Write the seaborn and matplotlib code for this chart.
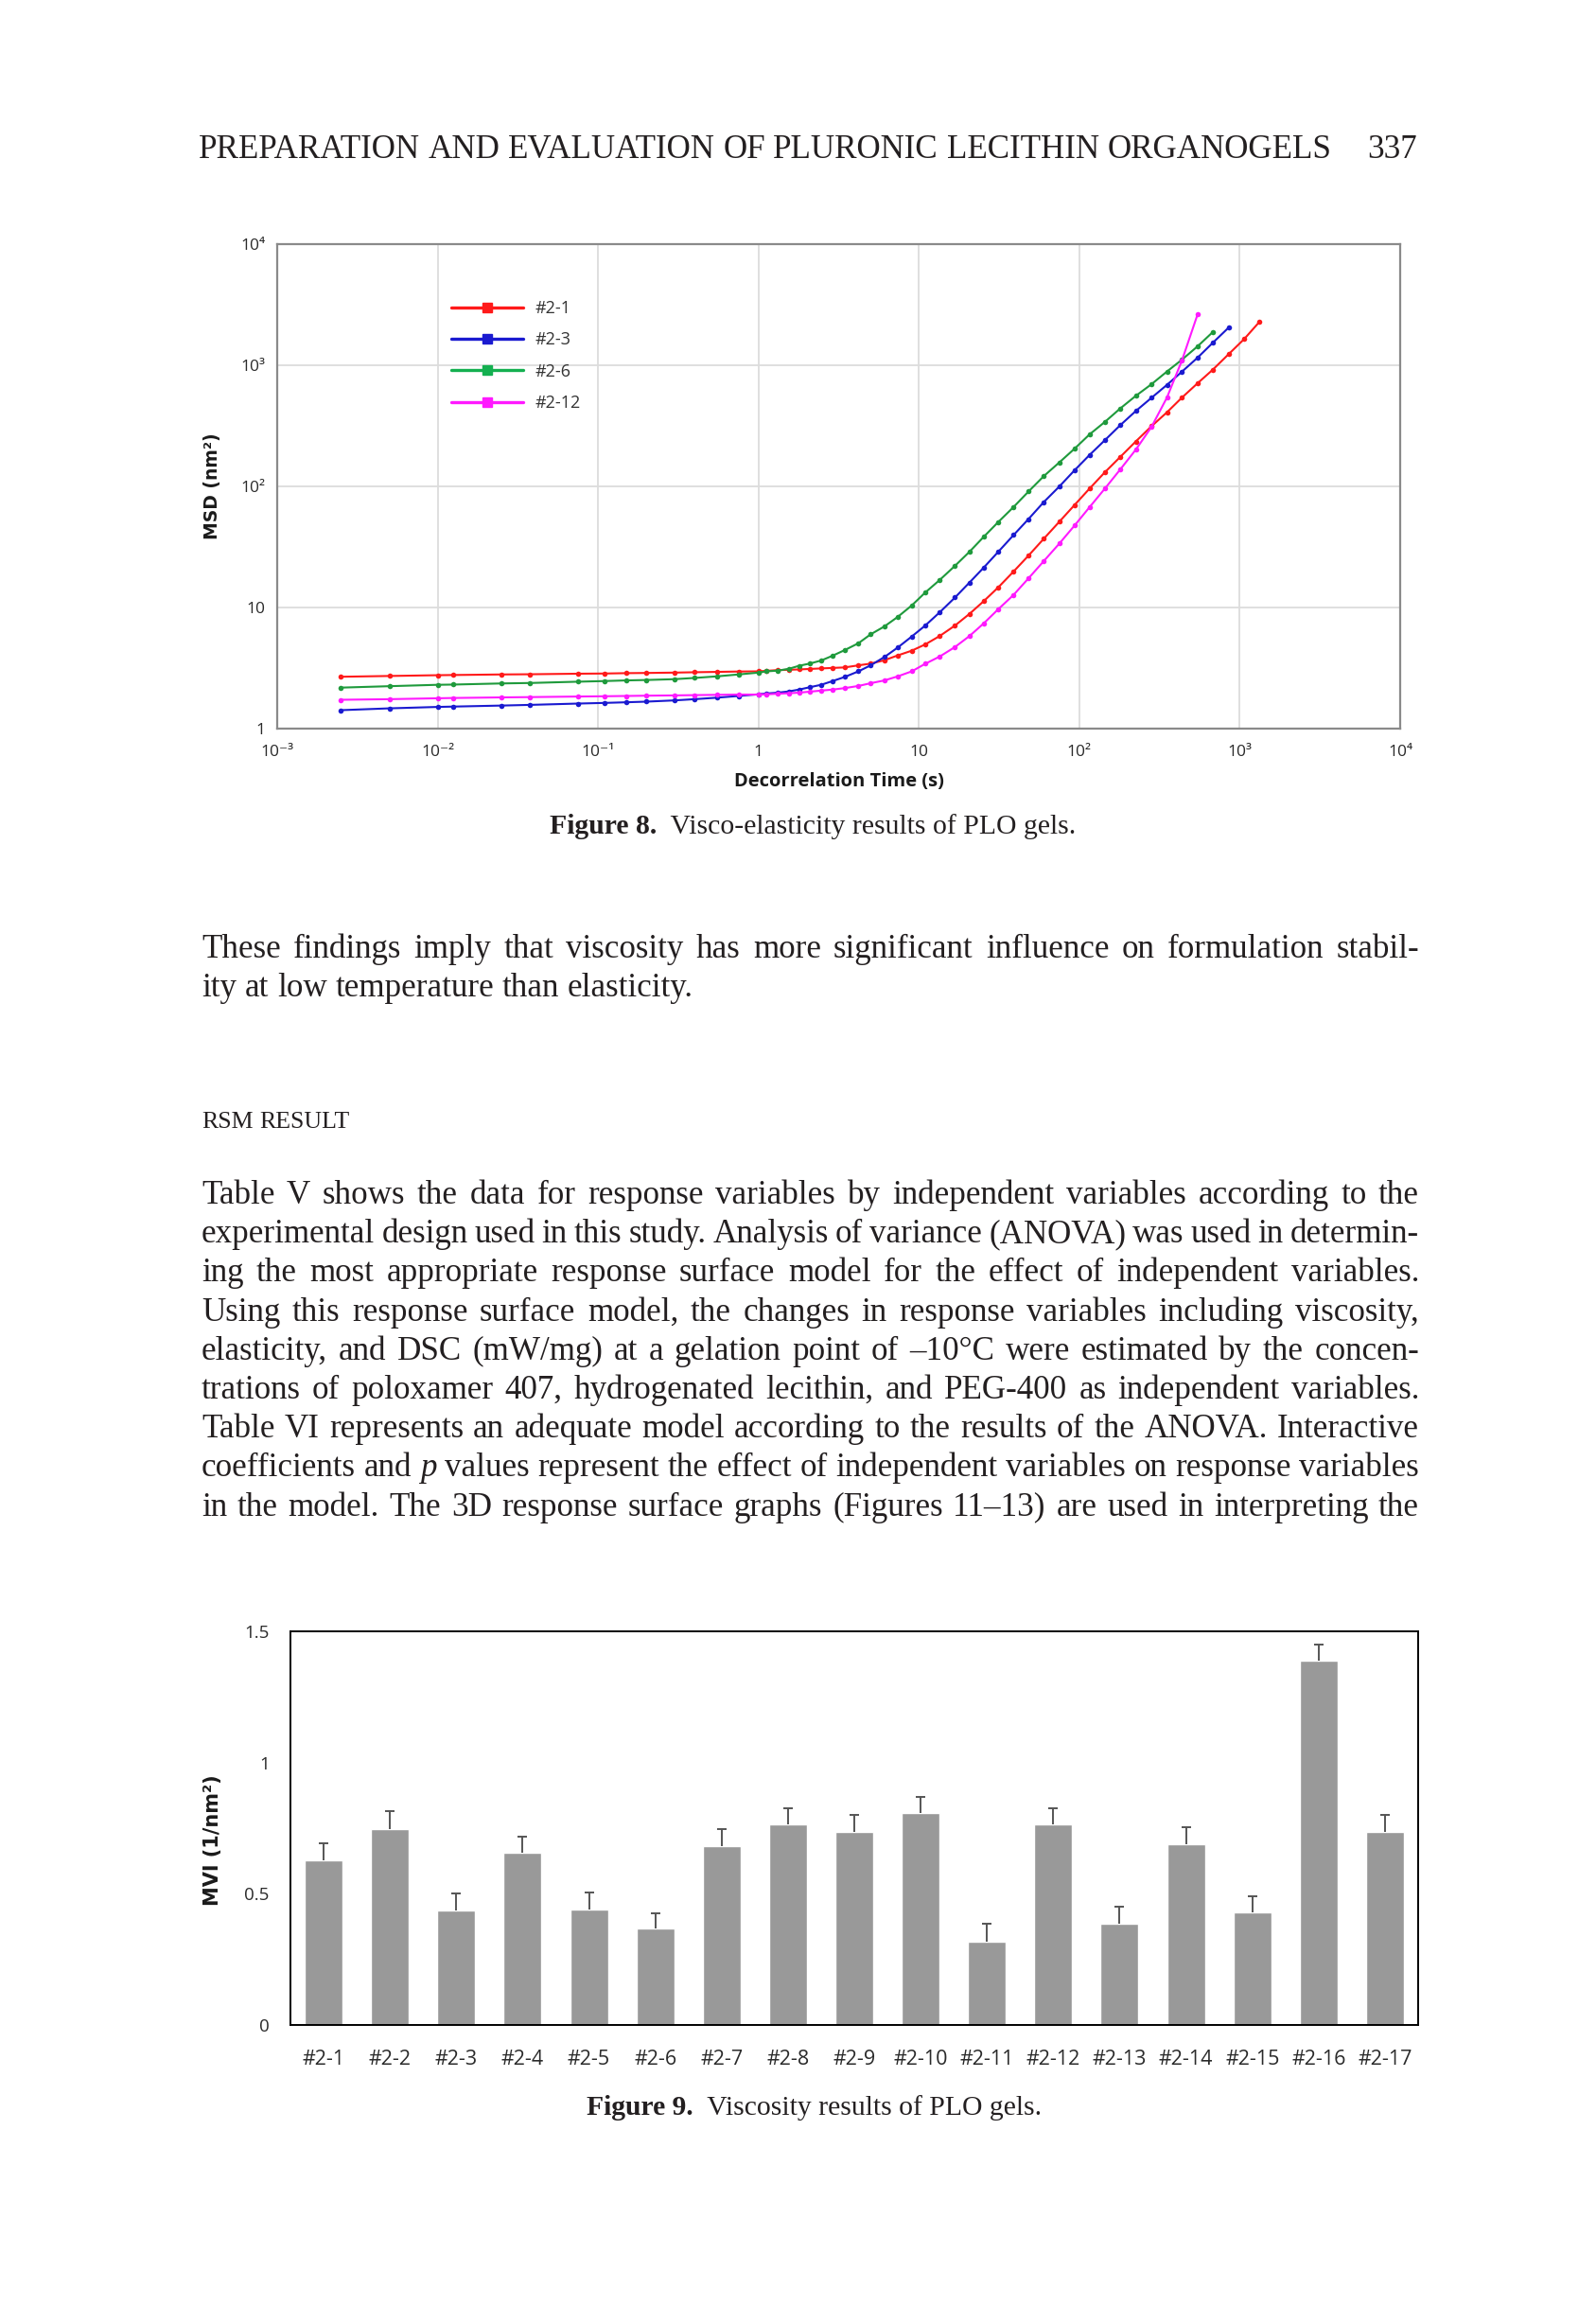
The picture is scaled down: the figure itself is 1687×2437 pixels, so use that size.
import numpy as np
import pandas as pd
import matplotlib
matplotlib.use("Agg")
import matplotlib.pyplot as plt
from matplotlib.lines import Line2D
from matplotlib.ticker import NullLocator
from matplotlib.transforms import IdentityTransform
import seaborn as sns

sns.set_style("white")
plt.rcParams["font.family"] = ["Open Sans", "DejaVu Sans"]

W, H = 1687, 2437
SERIF = "Liberation Serif"

# ---- Figure 8 data: MSD vs decorrelation time ----
lag_time = [0.0025, 0.005, 0.01, 0.0125, 0.025, 0.0375, 0.075, 0.11, 0.15, 0.2, 0.3, 0.4, 0.55, 0.75,
            1.0, 1.12, 1.32, 1.55, 1.79, 2.1, 2.46, 2.9, 3.45, 4.2, 5.0, 6.1, 7.38, 9.03,
            10.96, 13.5, 16.8, 20.7, 25.4, 31.3, 38.9, 48.2, 60.1, 75.2, 93.5,
            116, 144.5, 180, 225, 282, 352, 437, 546, 679, 852, 1065, 1330]

msd_2_1 = [2.68, 2.72, 2.76, 2.77, 2.80, 2.81, 2.84, 2.85, 2.87, 2.88, 2.90, 2.92, 2.94, 2.96,
           2.97, 3.00, 3.04, 3.06, 3.08, 3.11, 3.14, 3.17, 3.20, 3.33, 3.44, 3.67, 4.02, 4.40,
           4.96, 5.82, 7.10, 8.87, 11.3, 14.7, 19.8, 26.8, 37.0, 51.2, 70.3,
           96.1, 131, 175, 235, 314, 409, 542, 710, 919, 1233, 1644, 2291]
msd_2_3 = [1.42, 1.47, 1.51, 1.52, 1.55, 1.57, 1.61, 1.63, 1.65, 1.67, 1.71, 1.75, 1.80, 1.86,
           1.92, 1.95, 1.98, 2.03, 2.10, 2.20, 2.30, 2.47, 2.67, 2.97, 3.33, 3.90, 4.67, 5.76,
           7.10, 9.14, 12.1, 16.1, 21.4, 28.9, 39.6, 53.7, 74.3, 100, 136,
           182, 241, 320, 419, 539, 689, 887, 1155, 1532, 2044]
msd_2_6 = [2.18, 2.24, 2.30, 2.31, 2.36, 2.38, 2.44, 2.47, 2.50, 2.52, 2.56, 2.62, 2.70, 2.80,
           2.90, 2.97, 3.01, 3.12, 3.30, 3.45, 3.65, 4.00, 4.45, 5.07, 6.00, 6.98, 8.36, 10.4,
           13.3, 16.9, 22.1, 28.9, 38.4, 50.9, 67.5, 90.6, 121.6, 158, 205,
           269, 341, 440, 559, 698, 888, 1114, 1433, 1879]
msd_2_12 = [1.73, 1.75, 1.78, 1.79, 1.81, 1.82, 1.84, 1.85, 1.86, 1.87, 1.88, 1.89, 1.90, 1.91,
            1.91, 1.92, 1.94, 1.96, 1.98, 2.02, 2.06, 2.10, 2.16, 2.25, 2.37, 2.50, 2.70, 2.97,
            3.43, 3.94, 4.72, 5.82, 7.41, 9.70, 12.7, 17.4, 24.2, 33.8, 47.6,
            67.5, 96.1, 138, 201, 310, 542, 1102, 2630]

samples = ["#2-1", "#2-3", "#2-6", "#2-12"]
msd_series = [msd_2_1, msd_2_3, msd_2_6, msd_2_12]
line_colors = {"#2-1": "#ff1a1a", "#2-3": "#1a1ad0", "#2-6": "#1f9a3c", "#2-12": "#ff1aff"}
legend_colors = {"#2-1": "#ff1a1a", "#2-3": "#1a1ad0", "#2-6": "#14b050", "#2-12": "#ff1aff"}

x_ticks = [1e-3, 1e-2, 1e-1, 1, 10, 1e2, 1e3, 1e4]
x_ticklabels = ["10\u207b\u00b3", "10\u207b\u00b2", "10\u207b\u00b9", "1", "10", "10\u00b2", "10\u00b3", "10\u2074"]
y_ticks = [1, 10, 1e2, 1e3, 1e4]
y_ticklabels = ["1", "10", "10\u00b2", "10\u00b3", "10\u2074"]

# ---- Figure 9 data: MVI per gel ----
gels = ["#2-1", "#2-2", "#2-3", "#2-4", "#2-5", "#2-6", "#2-7", "#2-8", "#2-9",
        "#2-10", "#2-11", "#2-12", "#2-13", "#2-14", "#2-15", "#2-16", "#2-17"]
mvi = [0.627, 0.747, 0.435, 0.658, 0.441, 0.367, 0.681, 0.766, 0.735,
       0.809, 0.319, 0.766, 0.385, 0.689, 0.428, 1.388, 0.736]
mvi_sd = [0.067, 0.067, 0.066, 0.059, 0.065, 0.059, 0.066, 0.060, 0.067,
          0.061, 0.066, 0.060, 0.067, 0.064, 0.064, 0.062, 0.066]

# ---- page text ----
header = "PREPARATION AND EVALUATION OF PLURONIC LECITHIN ORGANOGELS"
page_no = "337"
para1 = ["These findings imply that viscosity has more significant influence on formulation stabil-",
         "ity at low temperature than elasticity."]
section = "RSM RESULT"
para2 = ["Table V shows the data for response variables by independent variables according to the",
         "experimental design used in this study. Analysis of variance (ANOVA) was used in determin-",
         "ing the most appropriate response surface model for the effect of independent variables.",
         "Using this response surface model, the changes in response variables including viscosity,",
         "elasticity, and DSC (mW/mg) at a gelation point of \u201310\u00b0C were estimated by the concen-",
         "trations of poloxamer 407, hydrogenated lecithin, and PEG-400 as independent variables.",
         "Table VI represents an adequate model according to the results of the ANOVA. Interactive",
         "coefficients and *p* values represent the effect of independent variables on response variables",
         "in the model. The 3D response surface graphs (Figures 11\u201313) are used in interpreting the"]

fig = plt.figure(figsize=(W / 100, H / 100), dpi=100)
fig.patch.set_facecolor("white")
renderer = fig.canvas.get_renderer()
INK = "#231f20"


def text_w(s, size, **kw):
    t = fig.text(0, 0, s, fontsize=size, family=SERIF, **kw)
    w = t.get_window_extent(renderer).width
    t.remove()
    return w


def split_words(line):
    out = []
    for w in line.split(" "):
        if w.startswith("*") and w.endswith("*"):
            out.append((w.strip("*"), "italic"))
        else:
            out.append((w, "normal"))
    return out


def natural_width(line, size):
    words = split_words(line)
    space = text_w("n n", size) - text_w("nn", size)
    return sum(text_w(w, size, style=st) for w, st in words) + space * (len(words) - 1)


def draw_line(line, x0, x1, y, size, justify=True, **kw):
    words = split_words(line)
    widths = [text_w(w, size, style=st, **kw) for w, st in words]
    space = text_w("n n", size, **kw) - text_w("nn", size, **kw)
    if justify:
        gap = max((x1 - x0 - sum(widths)) / (len(words) - 1), 0.3 * space)
    else:
        gap = space
    x = x0
    for (w, st), wd in zip(words, widths):
        fig.text(x, H - y, w, fontsize=size, family=SERIF, style=st, color=INK,
                 ha="left", va="baseline", transform=IdentityTransform(), **kw)
        x += wd + gap


# body font size: most justified lines close to natural spacing
X0, X1 = 213, 1500
full_lines = [para1[0]] + para2
fits = [20 * (X1 - X0) / natural_width(l, 20) for l in full_lines]
body_size = min(np.median(fits) * 0.97, min(fits) * 1.1)

# header
head_size = 20 * (1407 - 210) / natural_width(header, 20)
draw_line(header, 210, 1407, 167, head_size)
fig.text(1498, H - 167, page_no, fontsize=head_size, family=SERIF, color=INK,
         ha="right", va="baseline", transform=IdentityTransform())

# paragraphs
draw_line(para1[0], X0, X1, 1012, body_size)
draw_line(para1[1], X0, X1, 1053, body_size, justify=False)
sec_size = 20 * (370 - 213) / natural_width(section, 20)
draw_line(section, 213, 370, 1192, sec_size)
for i, line in enumerate(para2):
    draw_line(line, X0, X1, 1272 + 41.2 * i, body_size)


def caption(num, rest, x0, x1, y):
    size = 20 * (x1 - x0) / (text_w(num, 20, weight="bold") + text_w(rest, 20))
    wa = text_w(num, size, weight="bold")
    fig.text(x0, H - y, num, fontsize=size, family=SERIF, weight="bold", color=INK,
             ha="left", va="baseline", transform=IdentityTransform())
    fig.text(x0 + wa, H - y, rest, fontsize=size, family=SERIF, color=INK,
             ha="left", va="baseline", transform=IdentityTransform())


caption("Figure 8.", "  Visco-elasticity results of PLO gels.", 581, 1138, 881)
caption("Figure 9.", "  Viscosity results of PLO gels.", 620, 1101, 2235)

# ---- Figure 8: MSD plot ----
msd_df = pd.concat(
    [pd.DataFrame({"time": lag_time[:len(v)], "msd": v, "sample": s}) for s, v in zip(samples, msd_series)],
    ignore_index=True)

ax1 = fig.add_axes([293 / W, 1 - 770 / H, (1480 - 293) / W, (770 - 258) / H])
sns.lineplot(data=msd_df, x="time", y="msd", hue="sample", hue_order=samples, palette=line_colors,
             marker="o", markersize=4, markeredgewidth=0, linewidth=1.5, errorbar=None,
             legend=False, ax=ax1)
ax1.set_xscale("log")
ax1.set_yscale("log")
ax1.set_xlim(1e-3, 1e4)
ax1.set_ylim(1, 1e4)
ax1.set_xticks(x_ticks)
ax1.set_xticklabels(x_ticklabels)
ax1.set_yticks(y_ticks)
ax1.set_yticklabels(y_ticklabels)
ax1.xaxis.set_minor_locator(NullLocator())
ax1.yaxis.set_minor_locator(NullLocator())
ax1.grid(True, color="#dcdcdc", linewidth=1.3)
ax1.set_axisbelow(True)
for sp in ax1.spines.values():
    sp.set_color("#8a8a8a")
    sp.set_linewidth(1.6)
ax1.tick_params(length=0, labelsize=12.5, colors="#2a2a2a")
ax1.tick_params(axis="x", pad=12)
ax1.tick_params(axis="y", pad=9)
ax1.set_xlabel("Decorrelation Time (s)", fontsize=14.5, fontweight="bold", color="#1a1a1a")
ax1.set_ylabel("MSD (nm\u00b2)", fontsize=13.5, fontweight="bold", color="#1a1a1a",
               family="DejaVu Sans")
ax1.xaxis.set_label_coords(0.5, -0.09)
ax1.yaxis.set_label_coords(-0.05, 0.5)

handles = [Line2D([0], [0], color=legend_colors[s], lw=2.4, marker="s", markersize=7) for s in samples]
ax1.legend(handles, samples, loc="upper left", bbox_to_anchor=(0.155, 0.885), frameon=False,
           fontsize=13, handlelength=4.2, handletextpad=0.7, labelspacing=0.85,
           borderaxespad=0, borderpad=0, labelcolor="#333333")

# ---- Figure 9: MVI bar chart ----
ax2 = fig.add_axes([307 / W, 1 - 2140 / H, (1499 - 307) / W, (2140 - 1724) / H])
sns.barplot(x=gels, y=mvi, color="#999999", saturation=1, width=0.57, errorbar=None, ax=ax2)
_, caplines, _ = ax2.errorbar(np.arange(len(gels)), mvi, yerr=[np.zeros(len(gels)), mvi_sd], fmt="none",
                              ecolor="#555555", elinewidth=1.4, capsize=3.5, capthick=1.4)
for cl in caplines:
    if np.allclose(cl.get_ydata(), mvi):
        cl.remove()
ax2.set_xlim(-0.5, len(gels) - 0.5)
ax2.set_ylim(0, 1.5)
ax2.set_yticks([0, 0.5, 1, 1.5])
ax2.set_yticklabels(["0", "0.5", "1", "1.5"])
for sp in ax2.spines.values():
    sp.set_color("black")
    sp.set_linewidth(1.4)
ax2.tick_params(length=0, colors="#2a2a2a")
ax2.tick_params(axis="x", pad=19, labelsize=15.5)
ax2.tick_params(axis="y", pad=16, labelsize=13.5)
ax2.set_xlabel("")
ax2.set_ylabel("MVI (1/nm\u00b2)", fontsize=15, fontweight="bold", color="#1a1a1a", family="DejaVu Sans")
ax2.yaxis.set_label_coords(-0.06, 0.47)

fig.savefig("out.png", dpi=100, facecolor="white")
